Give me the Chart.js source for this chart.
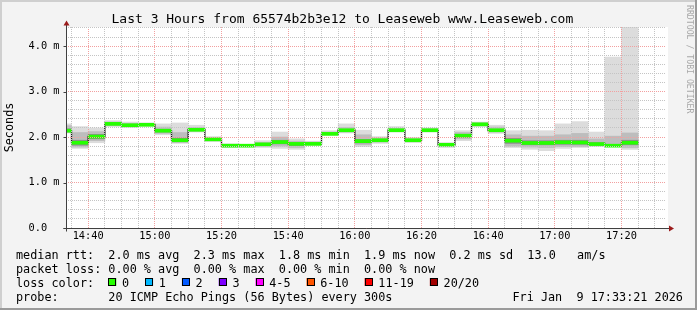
<!DOCTYPE html>
<html>
<head>
<meta charset="utf-8">
<script src="https://cdn.jsdelivr.net/npm/chart.js@4/dist/chart.umd.min.js"></script>
<style>
html,body{margin:0;padding:0;background:#f3f3f3;}
canvas{display:block;}
</style>
</head>
<body>
<canvas id="c" width="697" height="310"></canvas>
<script>
// ---- data (time in minutes after 14:00, values in ms) ----
const binStart = [30,35,40,45,50,55,60,65,70,75,80,85,90,95,100,105,110,115,120,125,130,135,140,145,150,155,160,165,170,175,180,185,190,195,200];
const median   = [2.14,1.875,2.01,2.29,2.26,2.27,2.14,1.93,2.16,1.95,1.81,1.81,1.84,1.89,1.85,1.85,2.07,2.15,1.91,1.93,2.15,1.93,2.15,1.83,2.03,2.28,2.15,1.92,1.87,1.87,1.885,1.88,1.845,1.81,1.875];
const smokeLo  = [2.09,1.75,1.875,2.23,2.21,2.24,2.05,1.86,2.11,1.90,1.77,1.78,1.77,1.75,1.73,1.82,2.04,2.09,1.79,1.86,2.11,1.88,2.11,1.77,1.92,2.23,2.08,1.77,1.73,1.70,1.75,1.77,1.79,1.79,1.73];
const smokeHi  = [2.29,2.23,2.20,2.36,2.33,2.31,2.29,2.31,2.26,2.01,1.85,1.84,1.92,2.11,1.96,1.91,2.14,2.29,2.15,2.01,2.23,1.99,2.20,1.875,2.14,2.33,2.26,2.14,2.15,2.14,2.29,2.34,2.11,3.76,4.6];
const midLo    = [2.10,1.78,1.92,2.25,2.23,2.25,2.08,1.88,2.13,1.92,1.79,1.79,1.80,1.80,1.77,1.83,2.05,2.11,1.83,1.89,2.13,1.90,2.13,1.80,1.96,2.25,2.11,1.80,1.78,1.77,1.79,1.79,1.81,1.79,1.77];
const midHi    = [2.25,2.10,2.12,2.33,2.30,2.29,2.22,2.10,2.21,1.98,1.83,1.83,1.88,2.00,1.91,1.89,2.11,2.21,2.05,1.98,2.19,1.96,2.18,1.86,2.10,2.31,2.22,2.05,2.02,2.02,2.05,2.08,1.96,2.02,2.09];
const coreLo   = [2.12,1.82,1.96,2.27,2.24,2.26,2.11,1.90,2.15,1.94,1.80,1.80,1.82,1.85,1.81,1.84,2.06,2.13,1.87,1.91,2.14,1.92,2.14,1.82,2.00,2.27,2.13,1.86,1.83,1.83,1.84,1.84,1.83,1.80,1.83];
const coreHi   = [2.18,1.93,2.06,2.31,2.28,2.28,2.17,1.98,2.19,1.96,1.82,1.82,1.86,1.93,1.87,1.87,2.08,2.17,1.95,1.95,2.16,1.94,2.16,1.85,2.06,2.29,2.17,1.97,1.92,1.92,1.93,1.93,1.88,1.84,1.93];

const xTickMinutes = [40,60,80,100,120,140,160,180,200];
const xTickLabels  = ['14:40','15:00','15:20','15:40','16:00','16:20','16:40','17:00','17:20'];
const yTickValues  = [0,1,2,3,4];
const yTickLabels  = ['0.0  ','1.0 m','2.0 m','3.0 m','4.0 m'];

const titleText = 'Last 3 Hours from 65574b2b3e12 to Leaseweb www.Leaseweb.com';
const yAxisTitle = 'Seconds';
const legendLine1 = 'median rtt:  2.0 ms avg  2.3 ms max  1.8 ms min  1.9 ms now  0.2 ms sd  13.0   am/s';
const legendLine2 = 'packet loss: 0.00 % avg  0.00 % max  0.00 % min  0.00 % now';
const lossTitle   = 'loss color:';
const lossLabels  = ['0','1','2','3','4-5','6-10','11-19','20/20'];
const lossColors  = ['#26ff00','#00b8ff','#0059ff','#7e00ff','#ff00ff','#ff5500','#ff0000','#a10000'];
const probeLine   = 'probe:       20 ICMP Echo Pings (56 Bytes) every 300s';
const dateText    = 'Fri Jan  9 17:33:21 2026';
const sideText    = 'RRDTOOL / TOBI OETIKER';

// ---- view window ----
const xMin = 33 + 21/60, xMax = 213 + 21/60;   // 14:33:21 .. 17:33:21
const yMax = 4.42;
const STEP = 5;

const W = 697, H = 310;
const MONO = "'DejaVu Sans Mono', monospace";

const xGrid = []; for (let m = 35; m <= 210; m += 5) xGrid.push(m);
const yGrid = []; for (let k = 0; k <= 22; k++) yGrid.push(Math.round(k*2)/10);

function band(lo, hi){ return binStart.map((s,i)=>({x: s + STEP/2, y: [lo[i], hi[i]]})); }
const greenHalf = 0.033;
const medianSteps = binStart.map((s,i)=>({x:s, y:median[i]}));
medianSteps.push({x: binStart[binStart.length-1] + STEP, y: median[median.length-1]});

const barCommon = {type:'bar', grouped:false, barPercentage:1, categoryPercentage:1, borderWidth:0};

const rrdPlugin = {
  id: 'rrd',
  beforeDraw(chart){
    const {ctx, chartArea:a} = chart;
    ctx.save();
    ctx.fillStyle = '#f3f3f3'; ctx.fillRect(0,0,W,H);
    ctx.fillStyle = '#cfcfcf'; ctx.fillRect(0,0,W,2); ctx.fillRect(0,0,2,H);
    ctx.fillStyle = '#9a9a9a'; ctx.fillRect(0,H-2,W,2); ctx.fillRect(W-2,0,2,H);
    ctx.fillStyle = '#ffffff'; ctx.fillRect(a.left, a.top, a.right - a.left + 2, a.bottom - a.top);
    ctx.restore();
  },
  afterDraw(chart){
    const {ctx, chartArea:a} = chart;
    ctx.save();
    // axes
    const ax = Math.round(a.left) + 0.5, ay = Math.round(a.bottom) + 0.5;
    ctx.strokeStyle = '#404040'; ctx.lineWidth = 1;
    ctx.beginPath();
    ctx.moveTo(ax, ay + 3); ctx.lineTo(ax, a.top - 3);
    ctx.moveTo(ax - 3, ay); ctx.lineTo(a.right + 4, ay);
    yTickValues.forEach(v => {
      const py = Math.round(chart.scales.y.getPixelForValue(v)) + 0.5;
      ctx.moveTo(ax - 3, py); ctx.lineTo(ax, py);
    });
    ctx.stroke();
    ctx.fillStyle = '#9b1c1c';
    ctx.beginPath();
    ctx.moveTo(ax, a.top - 6.5); ctx.lineTo(ax - 3, a.top - 1.5); ctx.lineTo(ax + 3, a.top - 1.5); ctx.closePath(); ctx.fill();
    ctx.beginPath();
    ctx.moveTo(a.right + 8, ay); ctx.lineTo(a.right + 3, ay - 3); ctx.lineTo(a.right + 3, ay + 3); ctx.closePath(); ctx.fill();

    // title
    ctx.fillStyle = '#000';
    ctx.font = "13px " + MONO;
    ctx.textAlign = 'left'; ctx.textBaseline = 'alphabetic';
    ctx.fillText(titleText, 111.5, 23);

    // y axis title
    ctx.save();
    ctx.font = "11.8px " + MONO;
    ctx.translate(9.5, (a.top + a.bottom)/2);
    ctx.rotate(-Math.PI/2);
    ctx.textAlign = 'center'; ctx.textBaseline = 'middle';
    ctx.fillText(yAxisTitle, 0, 0);
    ctx.restore();

    // side credit
    ctx.save();
    ctx.fillStyle = '#a8a8a8';
    ctx.font = "8.2px " + MONO;
    ctx.translate(689.5, 5);
    ctx.rotate(Math.PI/2);
    ctx.textAlign = 'left'; ctx.textBaseline = 'middle';
    ctx.fillText(sideText, 0, 0);
    ctx.restore();

    // legend
    ctx.fillStyle = '#000';
    ctx.font = "11.8px " + MONO;
    ctx.textAlign = 'left'; ctx.textBaseline = 'alphabetic';
    const lx = 16;
    ctx.fillText(legendLine1, lx, 259);
    ctx.fillText(legendLine2, lx, 273);
    ctx.fillText(lossTitle, lx, 286.5);
    let bx = 108.3;
    lossLabels.forEach((lab, i) => {
      ctx.fillStyle = lossColors[i];
      ctx.fillRect(bx, 278, 8, 8);
      ctx.strokeStyle = '#000'; ctx.lineWidth = 1;
      ctx.strokeRect(Math.round(bx) + 0.5, 278.5, 7, 7);
      ctx.fillStyle = '#000';
      const tx = bx + 13.7;
      ctx.fillText(lab, tx, 286.5);
      bx = tx + ctx.measureText(lab).width + 16;
    });
    ctx.fillText(probeLine, lx, 300.5);
    ctx.fillText(dateText, 512.5, 300.5);
    ctx.restore();
  }
};

new Chart(document.getElementById('c'), {
  type: 'bar',
  data: {
    datasets: [
      Object.assign({}, barCommon, {data: binStart.map((s,i)=>({x: s + STEP/2, y: [median[i]-greenHalf, median[i]+greenHalf]})), backgroundColor:'#26ff00', order:0}),
      {type:'line', data: medianSteps, stepped:'before', borderColor:'#1a1a1a', borderWidth:1.3, pointRadius:0, fill:false, order:1},
      Object.assign({}, barCommon, {data: band(coreLo, coreHi), backgroundColor:'#8e8e8e', order:2}),
      Object.assign({}, barCommon, {data: band(midLo, midHi), backgroundColor:'#bdbdbd', order:3}),
      Object.assign({}, barCommon, {data: band(smokeLo, smokeHi), backgroundColor:'#dcdcdc', order:4})
    ]
  },
  options: {
    responsive: false,
    animation: false,
    devicePixelRatio: 1,
    layout: {padding: {top:27, right:31, left:0, bottom:0}},
    plugins: {legend:{display:false}, tooltip:{enabled:false}, title:{display:false}},
    scales: {
      x: {
        type: 'linear', min: xMin, max: xMax, offset: false,
        afterBuildTicks: s => { s.ticks = xGrid.map(v => ({value: v})); },
        afterFit: s => { s.height = 82; },
        ticks: {
          autoSkip: false, maxRotation: 0, minRotation: 0, padding: 2, color: '#000',
          font: {family: MONO, size: 10.3},
          callback: v => { const k = xTickMinutes.indexOf(v); return k >= 0 ? xTickLabels[k] : ''; }
        },
        grid: {
          offset: false, drawTicks: false, z: 1, lineWidth: 1,
          color: c => (c.tick && xTickMinutes.includes(c.tick.value)) ? '#f2a0a0' : '#c4c4c4'
        },
        border: {display: false, dash: [1,1]}
      },
      y: {
        type: 'linear', min: 0, max: yMax,
        afterBuildTicks: s => { s.ticks = yGrid.map(v => ({value: v})); },
        afterFit: s => { s.width = 66; },
        ticks: {
          autoSkip: false, padding: 6.5, color: '#000',
          font: {family: MONO, size: 10.3},
          callback: v => { const k = yTickValues.indexOf(v); return k >= 0 ? yTickLabels[k] : ''; }
        },
        grid: {
          drawTicks: false, z: 1, lineWidth: 1,
          color: c => (c.tick && Number.isInteger(c.tick.value)) ? '#f2a0a0' : '#c4c4c4'
        },
        border: {display: false, dash: [1,1]}
      }
    }
  },
  plugins: [rrdPlugin]
});
</script>
</body>
</html>
